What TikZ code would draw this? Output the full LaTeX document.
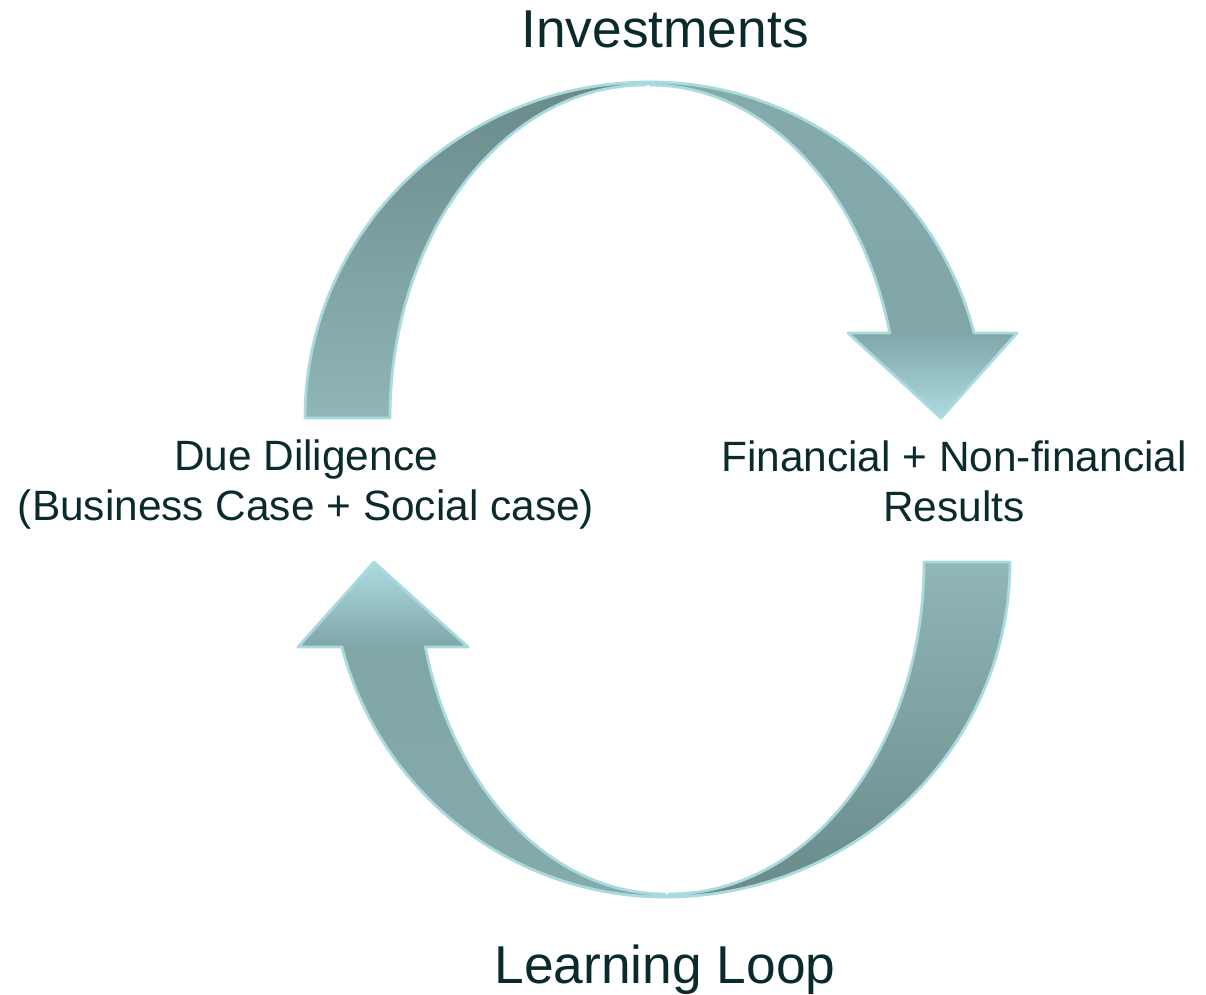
\documentclass[tikz,border=0pt]{standalone}
\usepackage{fontspec}
\setmainfont{Liberation Sans}
\definecolor{txt}{RGB}{10,42,44}
\definecolor{edge}{RGB}{170,218,222}
\definecolor{dark}{RGB}{106,138,138}
\definecolor{pale}{RGB}{144,182,183}
\definecolor{shaft}{RGB}{132,170,171}
\definecolor{headbase}{RGB}{128,166,168}
\definecolor{tiplight}{RGB}{172,220,224}
\pgfdeclareverticalshading{arrowdown}{100bp}{color(0bp)=(tiplight); color(25bp)=(tiplight); color(37.6bp)=(headbase); color(75bp)=(shaft); color(100bp)=(shaft)}
\pgfdeclareverticalshading{arrowup}{100bp}{color(0bp)=(shaft); color(25bp)=(shaft); color(62.3bp)=(headbase); color(75bp)=(tiplight); color(100bp)=(tiplight)}
\tikzset{
  band/.style={draw=edge, line width=2.8pt, line join=round},
  lbl/.style={text=txt, inner sep=0pt, anchor=base, font=\fontsize{42.4}{50}\selectfont},
  title/.style={text=txt, inner sep=0pt, anchor=base, font=\fontsize{53.3}{60}\selectfont}
}
\begin{document}
\begin{tikzpicture}[x=1pt,y=1pt]
\useasboundingbox (0,0) rectangle (1206,994);
% top-right arrow
\path[band, shading=arrowdown]
  (650,912) arc[start angle=90, end angle=14.66, x radius=335pt, y radius=336pt]
  -- (1017,661) -- (941,576) -- (848,661) -- (889.8,661)
  arc[start angle=14.79, end angle=90, x radius=248pt, y radius=333pt]
  -- cycle;
% top-left crescent
\path[band, top color=dark, bottom color=pale]
  (305,576) arc[start angle=180, end angle=90, x radius=345pt, y radius=336pt]
  -- (645,909) arc[start angle=90, end angle=180, x radius=255pt, y radius=333pt]
  -- cycle;
% bottom-left arrow
\path[band, shading=arrowup]
  (665,97) arc[start angle=-90, end angle=-165.3, x radius=334pt, y radius=335pt]
  -- (298,347) -- (374,432) -- (468,347) -- (425.3,347)
  arc[start angle=-165.17, end angle=-90, x radius=248pt, y radius=332pt]
  -- cycle;
% bottom-right crescent
\path[band, top color=pale, bottom color=dark]
  (1010,432) arc[start angle=0, end angle=-90, x radius=345pt, y radius=335pt]
  -- (670,100) arc[start angle=-90, end angle=0, x radius=254pt, y radius=332pt]
  -- cycle;
% labels
\node[title] (inv) at (665,946) {Investments};
\node[title] (learn) at (665,11) {Learning Loop};
\node[lbl] (dd1) at (306,523) {Due Diligence};
\node[lbl] (dd2) at (306,473) {(Business Case + Social case)};
\node[lbl] (fin1) at (954,522) {Financial + Non-financial};
\node[lbl] (fin2) at (954,472) {Results};
\end{tikzpicture}
\end{document}
